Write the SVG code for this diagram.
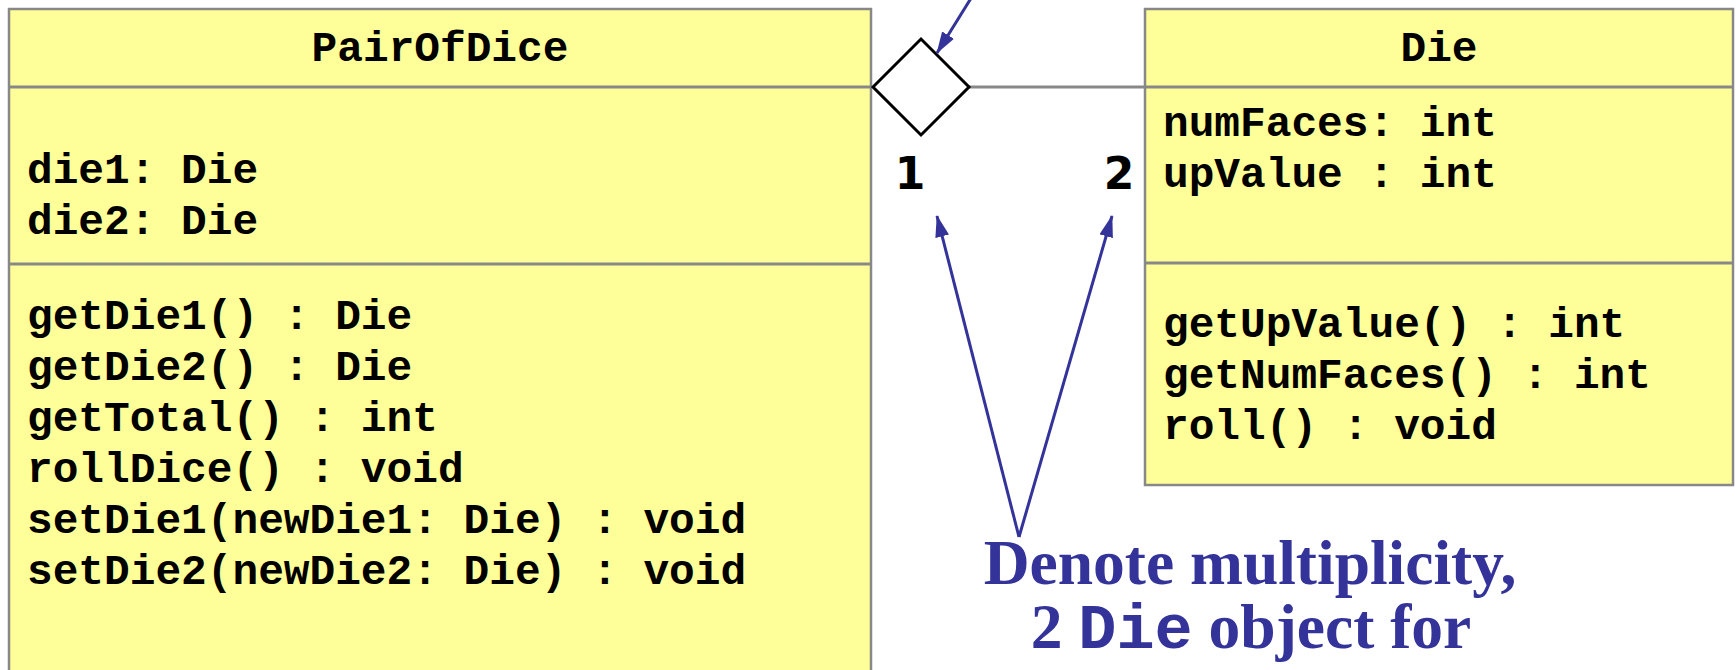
<svg xmlns="http://www.w3.org/2000/svg" width="1736" height="670" viewBox="0 0 1736 670">
  <defs>
    <style>
      .box { fill: #FFFF99; stroke: #888888; stroke-width: 2.5; }
      .sep { stroke: #888888; stroke-width: 3; }
      .mono { font-family: "Liberation Mono", "Courier New", monospace; font-weight: bold; font-size: 42.8px; fill: #000000; }
      .title { text-anchor: middle; }
      .mult { font-family: "DejaVu Sans", Verdana, sans-serif; font-weight: bold; font-size: 44px; fill: #000000; text-anchor: middle; }
      .note { font-family: "Liberation Serif", "Times New Roman", serif; font-weight: bold; font-size: 63.5px; fill: #333399; text-anchor: middle; }
      .note-code { font-family: "Liberation Mono", "Courier New", monospace; }
      .pointer { stroke: #333399; stroke-width: 3; fill: none; }
      .assoc { stroke: #888888; stroke-width: 3; fill: none; }
      .diamond { fill: #FFFFFF; stroke: #000000; stroke-width: 3; stroke-linejoin: miter; }
    </style>
    <marker id="arrow" viewBox="0 0 22 14" refX="21" refY="7" markerWidth="22" markerHeight="14" markerUnits="userSpaceOnUse" orient="auto">
      <path d="M0,0 L22,7 L0,14 Z" fill="#333399"/>
    </marker>
  </defs>

  <rect width="1736" height="670" fill="#FFFFFF"/>

  <!-- PairOfDice class -->
  <g id="pairOfDice">
    <rect class="box" x="9" y="9" width="862" height="700"/>
    <line class="sep" x1="9" y1="87" x2="871" y2="87"/>
    <line class="sep" x1="9" y1="264" x2="871" y2="264"/>
    <text class="mono title" x="440" y="61">PairOfDice</text>
    <text class="mono" x="27" y="183">die1: Die</text>
    <text class="mono" x="27" y="234">die2: Die</text>
    <text class="mono" x="27" y="329">getDie1() : Die</text>
    <text class="mono" x="27" y="380">getDie2() : Die</text>
    <text class="mono" x="27" y="431">getTotal() : int</text>
    <text class="mono" x="27" y="482">rollDice() : void</text>
    <text class="mono" x="27" y="533">setDie1(newDie1: Die) : void</text>
    <text class="mono" x="27" y="584">setDie2(newDie2: Die) : void</text>
  </g>

  <!-- Die class -->
  <g id="die">
    <rect class="box" x="1145" y="9" width="588" height="476"/>
    <line class="sep" x1="1145" y1="87" x2="1733" y2="87"/>
    <line class="sep" x1="1145" y1="263" x2="1733" y2="263"/>
    <text class="mono title" x="1439" y="61">Die</text>
    <text class="mono" x="1163" y="136">numFaces: int</text>
    <text class="mono" x="1163" y="187">upValue : int</text>
    <text class="mono" x="1163" y="337">getUpValue() : int</text>
    <text class="mono" x="1163" y="388">getNumFaces() : int</text>
    <text class="mono" x="1163" y="439">roll() : void</text>
  </g>

  <!-- Aggregation between the classes, with multiplicities -->
  <g id="connectors">
    <line class="assoc" x1="969" y1="87" x2="1145" y2="87"/>
    <polygon class="diamond" points="873,87 921,39 969,87 921,135"/>
    <text class="mult" x="910" y="189">1</text>
    <text class="mult" x="1119" y="189">2</text>
    <line class="pointer" x1="973" y1="-5" x2="937" y2="53" marker-end="url(#arrow)"/>
    <line class="pointer" x1="1019" y1="537" x2="937" y2="216" marker-end="url(#arrow)"/>
    <line class="pointer" x1="1019" y1="537" x2="1112" y2="216" marker-end="url(#arrow)"/>
  </g>

  <!-- Annotation -->
  <g id="note">
    <text class="note" x="1250" y="584">Denote multiplicity,</text>
    <text class="note" x="1251" y="648">2 <tspan class="note-code">Die</tspan> object for</text>
  </g>
</svg>
